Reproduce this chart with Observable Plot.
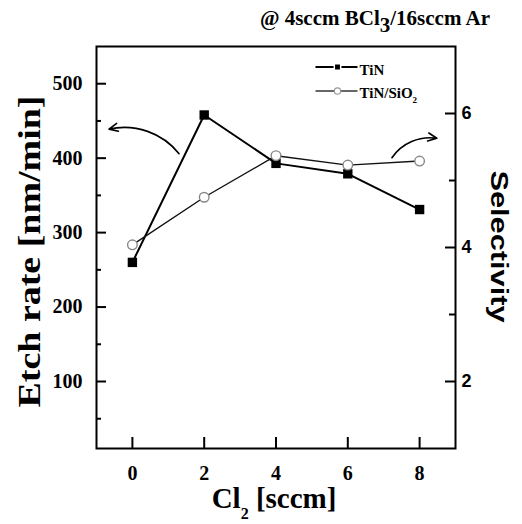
<!DOCTYPE html>
<html><head><meta charset="utf-8">
<script src="https://cdn.jsdelivr.net/npm/d3@7"></script>
<script src="https://cdn.jsdelivr.net/npm/@observablehq/plot@0.6"></script>
<style>
body{margin:0;background:#fff;}
#title{position:relative;height:30px;width:522px;font-family:"Liberation Serif";font-weight:bold;font-size:21px;}
#title span{position:absolute;right:32px;top:6px;line-height:normal;white-space:nowrap;}
#title sub{font-size:1em;vertical-align:-0.33em;line-height:0;}
</style></head><body>
<div id="title"><span>@ 4sccm BCl<sub>3</sub>/16sccm Ar</span></div>
<div id="chart"></div>
<script>
// ---- data ----
const cl2Flow = [0, 2, 4, 6, 8];
const etchRate = [260, 458, 393, 379, 331];          // TiN etch rate, nm/min (left axis)
const selectivity = [4.04, 4.75, 5.37, 5.23, 5.29];  // TiN/SiO2 selectivity (right axis)
const xTicks = [0, 2, 4, 6, 8];
const etchTicks = [100, 200, 300, 400, 500];
const etchMinorTicks = [50, 150, 250, 350, 450];
const selTicks = [2, 4, 6];
const selMinorTicks = [3, 5];
const xDomain = [-1, 9];
const etchDomain = [10, 550];
const selDomain = [1, 7];
// annotation arrows (data units)
const leftArrow = [{x1: 1.3, y1: 406, x2: -0.65, y2: 439}];     // etch-rate units
const rightArrow = [{x1: 7.23, y1: 5.34, x2: 8.48, y2: 5.63}];  // selectivity units
const seriesNames = ["TiN", "TiN/SiO2"];

// ---- helpers ----
const toEtch = s => etchDomain[0] + (s - selDomain[0]) * (etchDomain[1] - etchDomain[0]) / (selDomain[1] - selDomain[0]);
const fromEtch = v => selDomain[0] + (v - etchDomain[0]) * (selDomain[1] - selDomain[0]) / (etchDomain[1] - etchDomain[0]);

const W = 522, H = 494, mL = 96, mR = 67, mT = 16, mB = 76;
const fW = W - mL - mR, fH = H - mT - mB;

const tin = cl2Flow.map((x, i) => ({x, y: etchRate[i]}));
const sel = cl2Flow.map((x, i) => ({x, y: toEtch(selectivity[i])}));
const rightArrowE = rightArrow.map(d => ({x1: d.x1, y1: toEtch(d.y1), x2: d.x2, y2: toEtch(d.y2)}));

// horizontal dash symbol for legend samples (r = half length)
const dashSymbol = {draw(ctx, size) { const h = Math.sqrt(size / Math.PI); ctx.moveTo(-h, 0); ctx.lineTo(h, 0); }};

const chart = Plot.plot({
  width: W, height: H,
  marginLeft: mL, marginRight: mR, marginTop: mT, marginBottom: mB,
  style: {fontFamily: "Liberation Serif", fontWeight: "bold", background: "white", overflow: "visible", color: "#000"},
  x: {domain: xDomain, axis: null},
  y: {domain: etchDomain, axis: null},
  marks: [
    // inward tick lines
    Plot.tickX(xTicks, {x: d => d, insetTop: fH - 11, stroke: "#000", strokeWidth: 2}),
    Plot.tickY(etchTicks, {y: d => d, insetRight: fW - 10, stroke: "#000", strokeWidth: 2}),
    Plot.tickY(etchMinorTicks, {y: d => d, insetRight: fW - 5, stroke: "#000", strokeWidth: 2}),
    Plot.tickY(selTicks.map(toEtch), {y: d => d, insetLeft: fW - 10, stroke: "#000", strokeWidth: 2}),
    Plot.tickY(selMinorTicks.map(toEtch), {y: d => d, insetLeft: fW - 6, stroke: "#000", strokeWidth: 2}),
    // tick labels
    Plot.axisX({ticks: xTicks, tickSize: 0, tickPadding: 17, fontSize: 20, label: null}),
    Plot.axisY({anchor: "left", ticks: etchTicks, tickSize: 0, tickPadding: 14, fontSize: 20, label: null}),
    Plot.axisY({anchor: "right", ticks: selTicks.map(toEtch), tickFormat: d => String(Math.round(fromEtch(d))),
      tickSize: 0, tickPadding: 6, fontSize: 18, fontFamily: "Liberation Sans", label: null}),
    Plot.frame({stroke: "#000", strokeWidth: 2}),
    // annotation arrows
    Plot.arrow(leftArrow, {x1: "x1", y1: "y1", x2: "x2", y2: "y2", bend: -32, headLength: 9, headAngle: 50, strokeWidth: 1.6, stroke: "#000"}),
    Plot.arrow(rightArrowE, {x1: "x1", y1: "y1", x2: "x2", y2: "y2", bend: 32, headLength: 9, headAngle: 50, strokeWidth: 1.6, stroke: "#000"}),
    // series
    Plot.line(tin, {x: "x", y: "y", stroke: "#000", strokeWidth: 2}),
    Plot.line(sel, {x: "x", y: "y", stroke: "#111", strokeWidth: 1.4}),
    Plot.dot(tin, {x: "x", y: "y", symbol: "square", r: 5.3, fill: "#000", stroke: "none"}),
    Plot.dot(sel, {x: "x", y: "y", symbol: "circle", r: 4.8, fill: "#fff", stroke: "#888", strokeWidth: 1.4}),
    // legend
    Plot.dot([0], {frameAnchor: "top-right", dx: -119, dy: 20.5, symbol: dashSymbol, r: 21, stroke: "#000", strokeWidth: 2.2}),
    Plot.dot([0], {frameAnchor: "top-right", dx: -118, dy: 20.5, symbol: "square", r: 3.6, fill: "#000", stroke: "#fff", strokeWidth: 1.5}),
    Plot.text([seriesNames[0]], {frameAnchor: "top-right", text: d => d, dx: -96, dy: 24, fontSize: 15, textAnchor: "start", lineAnchor: "middle"}),
    Plot.dot([0], {frameAnchor: "top-right", dx: -119, dy: 44.5, symbol: dashSymbol, r: 21, stroke: "#333", strokeWidth: 1.4}),
    Plot.dot([0], {frameAnchor: "top-right", dx: -118, dy: 44.5, symbol: "circle", r: 3.2, fill: "#fff", stroke: "#999", strokeWidth: 1.2}),
    Plot.text([seriesNames[1]], {frameAnchor: "top-right", text: d => d, dx: -96, dy: 47, fontSize: 15, textAnchor: "start", lineAnchor: "middle"}),
    // axis titles
    Plot.text(["Etch rate [nm/min]"], {frameAnchor: "left", text: d => d, rotate: -90, dx: -67, dy: 4, fontSize: 32, textAnchor: "middle", lineAnchor: "middle"}),
    Plot.text(["Selectivity"], {frameAnchor: "right", text: d => d, rotate: 90, dx: 43, dy: -1, fontSize: 24, fontFamily: "Liberation Sans", textAnchor: "middle", lineAnchor: "middle"}),
    Plot.text(["Cl2 [sccm]"], {frameAnchor: "bottom", text: d => d, dx: -2, dy: 50, fontSize: 29, textAnchor: "middle", lineAnchor: "middle"})
  ]
});

// subscripts and stretched vertical titles
const NS = "http://www.w3.org/2000/svg";
chart.querySelectorAll("text").forEach(t => {
  const s = t.textContent;
  if (s === "Cl2 [sccm]") {
    t.textContent = "";
    const a = document.createElementNS(NS, "tspan"); a.textContent = "Cl";
    const b = document.createElementNS(NS, "tspan"); b.textContent = "2";
    b.setAttribute("font-size", "16"); b.setAttribute("dy", "11");
    const c = document.createElementNS(NS, "tspan"); c.textContent = "\u00a0[sccm]";
    c.setAttribute("dy", "-11");
    t.append(a, b, c);
  } else if (s === "TiN/SiO2") {
    t.textContent = "";
    const a = document.createElementNS(NS, "tspan"); a.textContent = "TiN/SiO";
    const b = document.createElementNS(NS, "tspan"); b.textContent = "2";
    b.setAttribute("font-size", "9"); b.setAttribute("dy", "5");
    t.append(a, b);
  } else if (s === "Etch rate [nm/min]") {
    t.setAttribute("textLength", "312"); t.setAttribute("lengthAdjust", "spacingAndGlyphs");
  } else if (s === "Selectivity") {
    t.setAttribute("textLength", "152"); t.setAttribute("lengthAdjust", "spacingAndGlyphs");
  }
});
document.getElementById("chart").append(chart);
</script>
</body></html>
